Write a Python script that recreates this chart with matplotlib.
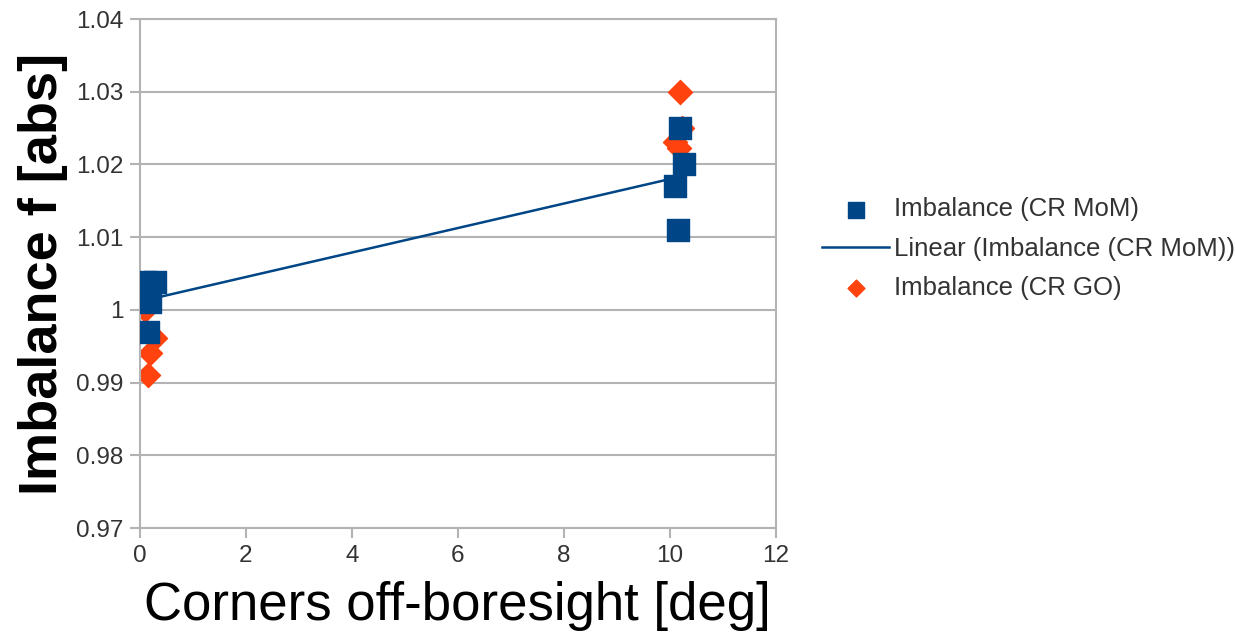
import numpy as np
import matplotlib
import matplotlib.pyplot as plt

matplotlib.use("Agg")

plt.rcParams["font.family"] = ["Liberation Sans", "DejaVu Sans"]

# Corner imbalance, method of moments (CR MoM)
mom_x = [0.10, 0.28, 0.18, 0.15, 10.19, 10.27, 10.11, 10.15]
mom_y = [1.0039, 1.0039, 1.0011, 0.9970, 1.0250, 1.0201, 1.0170, 1.0110]

# Corner imbalance, geometric optics (CR GO)
go_x = [0.10, 0.28, 0.18, 0.15, 10.19, 10.24, 10.10, 10.17]
go_y = [1.0000, 0.9962, 0.9941, 0.9910, 1.0300, 1.0250, 1.0231, 1.0222]

x_ticks = [0, 2, 4, 6, 8, 10, 12]
y_ticks = [0.97, 0.98, 0.99, 1.00, 1.01, 1.02, 1.03, 1.04]
y_tick_labels = ["0.97", "0.98", "0.99", "1", "1.01", "1.02", "1.03", "1.04"]

blue = "#004586"
orange = "#ff420e"
grid_gray = "#b3b3b3"

fig = plt.figure(figsize=(12.35, 6.36), dpi=100)
ax = fig.add_axes([0.1134, 0.1698, 0.5146, 0.8002])

ax.scatter(mom_x, mom_y, marker="s", s=270, color=blue, zorder=3,
           label="Imbalance (CR MoM)")

# least-squares trend line over the MoM points
slope, intercept = np.polyfit(mom_x, mom_y, 1)
line_x = np.array([min(mom_x), max(mom_x)])
ax.plot(line_x, slope * line_x + intercept, color=blue, lw=1.8, zorder=4,
        label="Linear (Imbalance (CR MoM))")

ax.scatter(go_x, go_y, marker="D", s=150, color=orange, zorder=2,
           label="Imbalance (CR GO)")

ax.set_xlim(0, 12)
ax.set_ylim(0.97, 1.04)
ax.set_xticks(x_ticks)
ax.set_yticks(y_ticks)
ax.set_yticklabels(y_tick_labels)
ax.yaxis.grid(True, color=grid_gray, lw=1.5)
ax.set_axisbelow(True)
for sp in ax.spines.values():
    sp.set_color(grid_gray)
    sp.set_linewidth(1.5)
ax.tick_params(colors=grid_gray, labelcolor="#333333", labelsize=17.5,
               length=7, width=1.5, pad=5)

ax.set_xlabel("Corners off-boresight [deg]", fontsize=38, labelpad=10)
ax.set_ylabel("Imbalance f [abs]", fontsize=39, fontweight="bold", labelpad=6)

# legend order: squares, trend line, diamonds
handles, labels = ax.get_legend_handles_labels()
order = [labels.index(l) for l in ["Imbalance (CR MoM)",
                                   "Linear (Imbalance (CR MoM))",
                                   "Imbalance (CR GO)"]]
leg = fig.legend([handles[i] for i in order], [labels[i] for i in order],
                 loc="center left", bbox_to_anchor=(0.647, 0.609),
                 frameon=False, fontsize=18.5, markerscale=0.7,
                 handlelength=2.6, handletextpad=0.2, labelspacing=0.6)
for t in leg.get_texts():
    t.set_color("#333333")

fig.savefig("out.png", dpi=100)
